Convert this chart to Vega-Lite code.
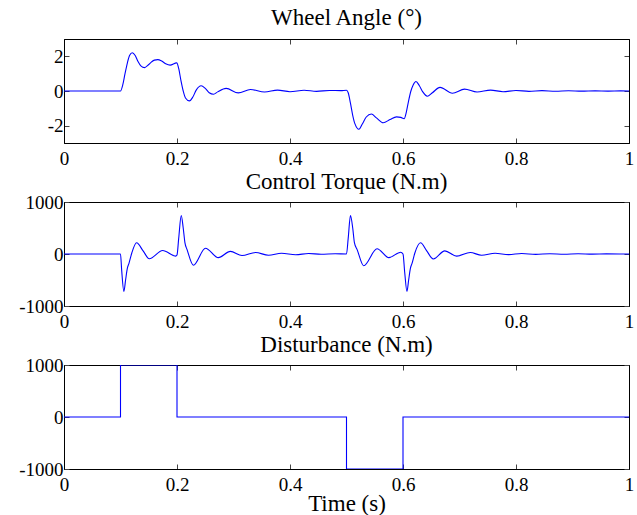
{
  "$schema": "https://vega.github.io/schema/vega-lite/v6.json",
  "background": "white",
  "padding": {"left": 18, "top": 6, "right": 0, "bottom": 0},
  "datasets": {
    "angle": [
      {"t": 0, "v": 0}, {"t": 0.1, "v": 0}, {"t": 0.104, "v": 0.35}, {"t": 0.108, "v": 1.0},
      {"t": 0.112, "v": 1.6}, {"t": 0.116, "v": 2.05}, {"t": 0.121, "v": 2.21}, {"t": 0.126, "v": 2.05},
      {"t": 0.131, "v": 1.7}, {"t": 0.136, "v": 1.45}, {"t": 0.1427, "v": 1.35}, {"t": 0.149, "v": 1.5},
      {"t": 0.155, "v": 1.68}, {"t": 0.16, "v": 1.78}, {"t": 0.166, "v": 1.81}, {"t": 0.172, "v": 1.75},
      {"t": 0.18, "v": 1.57}, {"t": 0.1877, "v": 1.49}, {"t": 0.1995, "v": 1.62}, {"t": 0.203, "v": 1.3},
      {"t": 0.207, "v": 0.6}, {"t": 0.211, "v": 0.0}, {"t": 0.215, "v": -0.4}, {"t": 0.222, "v": -0.57},
      {"t": 0.228, "v": -0.35}, {"t": 0.234, "v": 0.05}, {"t": 0.2428, "v": 0.3}, {"t": 0.25, "v": 0.15},
      {"t": 0.257, "v": -0.1}, {"t": 0.2647, "v": -0.19}, {"t": 0.272, "v": -0.05}, {"t": 0.287, "v": 0.15},
      {"t": 0.3085, "v": -0.11}, {"t": 0.33, "v": 0.09}, {"t": 0.355, "v": -0.06}, {"t": 0.378, "v": 0.05},
      {"t": 0.4, "v": -0.04}, {"t": 0.425, "v": 0.04}, {"t": 0.447, "v": -0.02}, {"t": 0.47, "v": 0.03},
      {"t": 0.49, "v": 0.02}, {"t": 0.5, "v": 0.04}, {"t": 0.503, "v": -0.1}, {"t": 0.507, "v": -0.7},
      {"t": 0.511, "v": -1.4}, {"t": 0.515, "v": -1.9}, {"t": 0.522, "v": -2.21}, {"t": 0.528, "v": -1.9},
      {"t": 0.535, "v": -1.5}, {"t": 0.544, "v": -1.33}, {"t": 0.553, "v": -1.55}, {"t": 0.565, "v": -1.83},
      {"t": 0.577, "v": -1.65}, {"t": 0.5885, "v": -1.49}, {"t": 0.596, "v": -1.52}, {"t": 0.602, "v": -1.6},
      {"t": 0.606, "v": -1.2}, {"t": 0.61, "v": -0.55}, {"t": 0.614, "v": 0.0}, {"t": 0.618, "v": 0.35},
      {"t": 0.623, "v": 0.55}, {"t": 0.629, "v": 0.3}, {"t": 0.635, "v": -0.05}, {"t": 0.643, "v": -0.3},
      {"t": 0.652, "v": -0.1}, {"t": 0.6655, "v": 0.21}, {"t": 0.6874, "v": -0.13}, {"t": 0.709, "v": 0.11},
      {"t": 0.731, "v": -0.06}, {"t": 0.755, "v": 0.05}, {"t": 0.777, "v": -0.04}, {"t": 0.8, "v": 0.03},
      {"t": 0.823, "v": -0.02}, {"t": 0.846, "v": 0.02}, {"t": 0.87, "v": -0.015}, {"t": 0.893, "v": 0.015},
      {"t": 0.916, "v": -0.01}, {"t": 0.94, "v": 0.01}, {"t": 0.963, "v": -0.005}, {"t": 0.985, "v": 0.005},
      {"t": 1.0, "v": 0}
    ],
    "torque": [
      {"t": 0, "v": 0}, {"t": 0.1, "v": 0}, {"t": 0.102, "v": -300}, {"t": 0.106, "v": -720},
      {"t": 0.109, "v": -500}, {"t": 0.112, "v": -280}, {"t": 0.115, "v": -180}, {"t": 0.12, "v": 20},
      {"t": 0.1285, "v": 215}, {"t": 0.14, "v": 60}, {"t": 0.151, "v": -92}, {"t": 0.1746, "v": 67},
      {"t": 0.1977, "v": -40}, {"t": 0.2, "v": -20}, {"t": 0.203, "v": 300}, {"t": 0.2075, "v": 740},
      {"t": 0.211, "v": 500}, {"t": 0.214, "v": 220}, {"t": 0.218, "v": 80}, {"t": 0.229, "v": -215},
      {"t": 0.2504, "v": 110}, {"t": 0.273, "v": -70}, {"t": 0.2945, "v": 50}, {"t": 0.315, "v": -30},
      {"t": 0.339, "v": 30}, {"t": 0.362, "v": -25}, {"t": 0.385, "v": 15}, {"t": 0.41, "v": -15},
      {"t": 0.433, "v": 10}, {"t": 0.455, "v": -5}, {"t": 0.48, "v": 5}, {"t": 0.5, "v": 0},
      {"t": 0.503, "v": 300}, {"t": 0.507, "v": 740}, {"t": 0.511, "v": 500}, {"t": 0.514, "v": 220},
      {"t": 0.519, "v": 80}, {"t": 0.5305, "v": -225}, {"t": 0.554, "v": 100}, {"t": 0.575, "v": -70},
      {"t": 0.596, "v": 35}, {"t": 0.6, "v": 0}, {"t": 0.603, "v": -350}, {"t": 0.607, "v": -720},
      {"t": 0.61, "v": -500}, {"t": 0.613, "v": -280}, {"t": 0.616, "v": -180}, {"t": 0.621, "v": 20},
      {"t": 0.631, "v": 215}, {"t": 0.642, "v": 60}, {"t": 0.6536, "v": -95}, {"t": 0.674, "v": 60},
      {"t": 0.695, "v": -40}, {"t": 0.719, "v": 30}, {"t": 0.739, "v": -25}, {"t": 0.763, "v": 15},
      {"t": 0.787, "v": -12}, {"t": 0.81, "v": 10}, {"t": 0.835, "v": -8}, {"t": 0.86, "v": 6},
      {"t": 0.885, "v": -5}, {"t": 0.91, "v": 4}, {"t": 0.935, "v": -3}, {"t": 0.96, "v": 2},
      {"t": 1.0, "v": 0}
    ],
    "dist": [
      {"t": 0, "v": 0}, {"t": 0.1, "v": 1000}, {"t": 0.2, "v": 0}, {"t": 0.5, "v": -1000},
      {"t": 0.6, "v": 0}, {"t": 1.0, "v": 0}
    ]
  },
  "vconcat": [
    {
      "title": {"text": "Wheel Angle (°)", "offset": 9},
      "width": 565, "height": 104,
      "data": {"name": "angle"},
      "layer": [
        {"mark": {"type": "line", "color": "#0000ff", "strokeWidth": 1.1, "interpolate": "monotone", "clip": true},
         "encoding": {
           "x": {"field": "t", "type": "quantitative", "scale": {"domain": [0, 1]}, "axis": {"values": [0, 0.2, 0.4, 0.6, 0.8, 1], "title": null, "labelExpr": "'' + datum.value"}},
           "y": {"field": "v", "type": "quantitative", "scale": {"domain": [-3, 3]}, "axis": {"values": [-2, 0, 2], "title": null, "labelExpr": "'' + datum.value"}}}},
        {"mark": {"type": "line", "opacity": 0},
         "encoding": {
           "x": {"field": "t", "type": "quantitative", "axis": {"orient": "top", "labels": false, "values": [0, 0.2, 0.4, 0.6, 0.8, 1], "title": null}},
           "y": {"field": "v", "type": "quantitative", "axis": {"orient": "right", "labels": false, "values": [-2, 0, 2], "title": null}}}}
      ],
      "resolve": {"axis": {"x": "independent", "y": "independent"}}
    },
    {
      "title": {"text": "Control Torque (N.m)", "offset": -1},
      "width": 565, "height": 104,
      "data": {"name": "torque"},
      "layer": [
        {"mark": {"type": "line", "color": "#0000ff", "strokeWidth": 1.1, "interpolate": "monotone", "clip": true},
         "encoding": {
           "x": {"field": "t", "type": "quantitative", "scale": {"domain": [0, 1]}, "axis": {"values": [0, 0.2, 0.4, 0.6, 0.8, 1], "title": null, "labelExpr": "'' + datum.value"}},
           "y": {"field": "v", "type": "quantitative", "scale": {"domain": [-1000, 1000]}, "axis": {"values": [-1000, 0, 1000], "title": null, "labelExpr": "'' + datum.value"}}}},
        {"mark": {"type": "line", "opacity": 0},
         "encoding": {
           "x": {"field": "t", "type": "quantitative", "axis": {"orient": "top", "labels": false, "values": [0, 0.2, 0.4, 0.6, 0.8, 1], "title": null}},
           "y": {"field": "v", "type": "quantitative", "axis": {"orient": "right", "labels": false, "values": [-1000, 0, 1000], "title": null}}}}
      ],
      "resolve": {"axis": {"x": "independent", "y": "independent"}}
    },
    {
      "title": {"text": "Disturbance (N.m)", "offset": -1},
      "width": 565, "height": 104,
      "data": {"name": "dist"},
      "layer": [
        {"mark": {"type": "line", "color": "#0000ff", "strokeWidth": 1.1, "interpolate": "step-after", "clip": true},
         "encoding": {
           "x": {"field": "t", "type": "quantitative", "scale": {"domain": [0, 1]}, "axis": {"values": [0, 0.2, 0.4, 0.6, 0.8, 1], "title": "Time (s)", "titlePadding": -2, "labelExpr": "'' + datum.value"}},
           "y": {"field": "v", "type": "quantitative", "scale": {"domain": [-1000, 1000]}, "axis": {"values": [-1000, 0, 1000], "title": null, "labelExpr": "'' + datum.value"}}}},
        {"mark": {"type": "line", "opacity": 0},
         "encoding": {
           "x": {"field": "t", "type": "quantitative", "axis": {"orient": "top", "labels": false, "values": [0, 0.2, 0.4, 0.6, 0.8, 1], "title": null}},
           "y": {"field": "v", "type": "quantitative", "axis": {"orient": "right", "labels": false, "values": [-1000, 0, 1000], "title": null}}}}
      ],
      "resolve": {"axis": {"x": "independent", "y": "independent"}}
    }
  ],
  "spacing": 59,
  "bounds": "flush",
  "config": {
    "view": {"stroke": "black", "strokeWidth": 1},
    "axis": {
      "grid": false,
      "domainColor": "black",
      "domainWidth": 1,
      "tickColor": "#444444",
      "tickSize": -5,
      "labelFlush": false,
      "labelFont": "Liberation Serif",
      "labelFontSize": 19,
      "labelColor": "black",
      "titleFont": "Liberation Serif",
      "titleFontSize": 23,
      "titleFontWeight": "normal",
      "titleColor": "black",
      "titlePadding": 1
    },
    "axisX": {"labelPadding": 11},
    "axisY": {"labelPadding": 6},
    "title": {
      "font": "Liberation Serif",
      "fontSize": 23,
      "fontWeight": "normal",
      "color": "black",
      "anchor": "middle",
      "baseline": "alphabetic"
    }
  }
}
